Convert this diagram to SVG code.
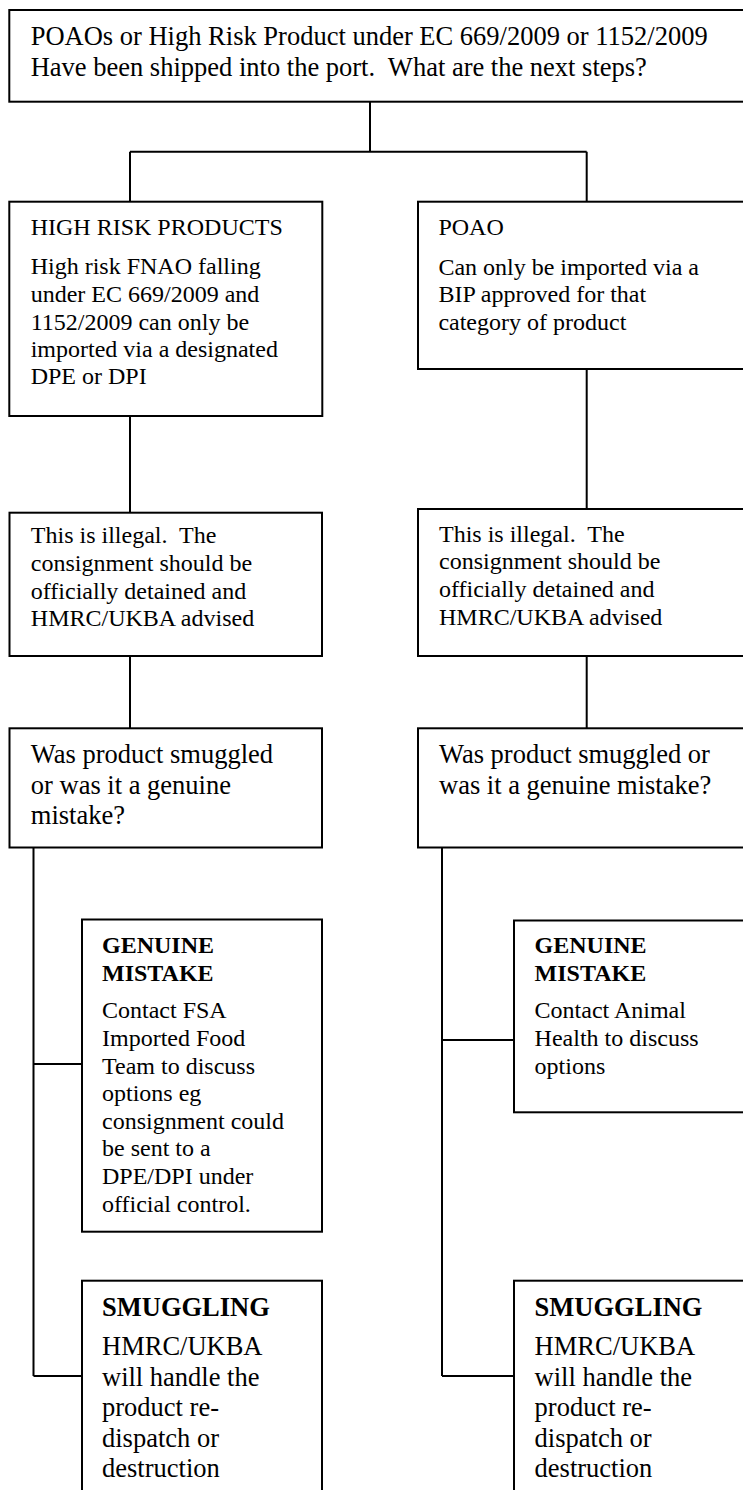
<svg xmlns="http://www.w3.org/2000/svg" width="743" height="1490" viewBox="0 0 743 1490" xml:space="preserve">
<style>
.box{fill:#fff;stroke:#000;stroke-width:2}
.ln{fill:none;stroke:#000;stroke-width:2}
text{font-family:"Liberation Serif","Times New Roman",serif;fill:#000;white-space:pre}
.s24{font-size:24px}
.s26{font-size:26.5px}
.b{font-weight:bold}
</style>
<rect x="0" y="0" width="743" height="1490" fill="#fff"/>
<g id="connectors" class="ln">
<path d="M370 101.7V151.7M130 151.7H586.7M130 151.7V201.7M586.7 151.7V201.7"/>
<path d="M130 416V512.7M130 656V728.3"/>
<path d="M586.7 369V509M586.7 656V728.3"/>
<path d="M33.5 847.5V1376M33.5 1064H82M33.5 1376H82"/>
<path d="M442 847.5V1376M442 1040H514M442 1376H514"/>
</g>
<g id="start">
<rect class="box" x="9.3" y="10" width="760" height="91.7"/>
<text class="s26" x="30.7" y="45">POAOs or High Risk Product under EC 669/2009 or 1152/2009</text>
<text class="s26" x="30.7" y="76">Have been shipped into the port.  What are the next steps?</text>
</g>
<g id="high-risk">
<rect class="box" x="9.3" y="201.7" width="313" height="214.3"/>
<text class="s24" x="30.7" y="235">HIGH RISK PRODUCTS</text>
<text class="s24" x="30.7" y="274">High risk FNAO falling</text>
<text class="s24" x="30.7" y="301.7">under EC 669/2009 and</text>
<text class="s24" x="30.7" y="330">1152/2009 can only be</text>
<text class="s24" x="30.7" y="356.7">imported via a designated</text>
<text class="s24" x="30.7" y="384.3">DPE or DPI</text>
</g>
<g id="poao">
<rect class="box" x="418" y="201.7" width="350" height="167.3"/>
<text class="s24" x="438.4" y="235">POAO</text>
<text class="s24" x="438.4" y="275">Can only be imported via a</text>
<text class="s24" x="438.4" y="301.7">BIP approved for that</text>
<text class="s24" x="438.4" y="330">category of product</text>
</g>
<g id="illegal-left">
<rect class="box" x="9.5" y="512.7" width="312.5" height="143.3"/>
<text class="s24" x="30.8" y="543.3">This is illegal.  The</text>
<text class="s24" x="30.8" y="570.9">consignment should be</text>
<text class="s24" x="30.8" y="598.5">officially detained and</text>
<text class="s24" x="30.8" y="626.1">HMRC/UKBA advised</text>
</g>
<g id="illegal-right">
<rect class="box" x="418" y="509" width="350" height="147"/>
<text class="s24" x="439" y="541.7">This is illegal.  The</text>
<text class="s24" x="439" y="569.3">consignment should be</text>
<text class="s24" x="439" y="596.9">officially detained and</text>
<text class="s24" x="439" y="624.5">HMRC/UKBA advised</text>
</g>
<g id="question-left">
<rect class="box" x="9.5" y="728.3" width="312.5" height="119.2"/>
<text class="s26" x="30.8" y="763.3">Was product smuggled</text>
<text class="s26" x="30.8" y="793.8">or was it a genuine</text>
<text class="s26" x="30.8" y="824.3">mistake?</text>
</g>
<g id="question-right">
<rect class="box" x="418" y="728.3" width="350" height="119.2"/>
<text class="s26" x="439" y="763.3">Was product smuggled or</text>
<text class="s26" x="439" y="793.8">was it a genuine mistake?</text>
</g>
<g id="genuine-left">
<rect class="box" x="82" y="919.5" width="240" height="312.2"/>
<text class="s24 b" x="102" y="953.3">GENUINE</text>
<text class="s24 b" x="102" y="981">MISTAKE</text>
<text class="s24" x="102" y="1018.3">Contact FSA</text>
<text class="s24" x="102" y="1045.9">Imported Food</text>
<text class="s24" x="102" y="1073.5">Team to discuss</text>
<text class="s24" x="102" y="1101.1">options eg</text>
<text class="s24" x="102" y="1128.7">consignment could</text>
<text class="s24" x="102" y="1156.3">be sent to a</text>
<text class="s24" x="102" y="1183.9">DPE/DPI under</text>
<text class="s24" x="102" y="1211.5">official control.</text>
</g>
<g id="smuggling-left">
<rect class="box" x="82" y="1280.7" width="240" height="230"/>
<text class="s26 b" x="102" y="1315.7">SMUGGLING</text>
<text class="s26" x="102" y="1355">HMRC/UKBA</text>
<text class="s26" x="102" y="1385.6">will handle the</text>
<text class="s26" x="102" y="1416.2">product re-</text>
<text class="s26" x="102" y="1446.8">dispatch or</text>
<text class="s26" x="102" y="1477.4">destruction</text>
</g>
<g id="genuine-right">
<rect class="box" x="514" y="920.5" width="260" height="191.8"/>
<text class="s24 b" x="534.6" y="953.3">GENUINE</text>
<text class="s24 b" x="534.6" y="981">MISTAKE</text>
<text class="s24" x="534.6" y="1018.3">Contact Animal</text>
<text class="s24" x="534.6" y="1045.9">Health to discuss</text>
<text class="s24" x="534.6" y="1073.5">options</text>
</g>
<g id="smuggling-right">
<rect class="box" x="514" y="1280.7" width="260" height="230"/>
<text class="s26 b" x="534.6" y="1315.7">SMUGGLING</text>
<text class="s26" x="534.6" y="1355">HMRC/UKBA</text>
<text class="s26" x="534.6" y="1385.6">will handle the</text>
<text class="s26" x="534.6" y="1416.2">product re-</text>
<text class="s26" x="534.6" y="1446.8">dispatch or</text>
<text class="s26" x="534.6" y="1477.4">destruction</text>
</g>
</svg>
